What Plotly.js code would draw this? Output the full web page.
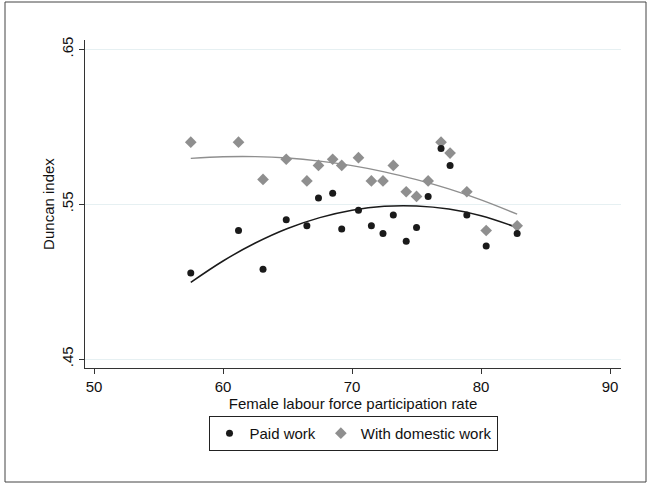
<!DOCTYPE html>
<html>
<head>
<meta charset="utf-8">
<script src="https://cdn.plot.ly/plotly-3.0.1.min.js"></script>
<style>html,body{margin:0;padding:0;background:#fff;}#chart{width:649px;height:484px;}</style>
</head>
<body>
<div id="chart"></div>
<script>
// Female labour force participation rate (x) per country
const participation = [57.5, 61.2, 63.1, 64.9, 66.5, 67.4, 68.5, 69.2, 70.5, 71.5,
                       72.4, 73.2, 74.2, 75.0, 75.9, 76.9, 77.6, 78.9, 80.4, 82.8];
// Duncan index, paid work only
const paidWork = [0.5055, 0.533, 0.508, 0.540, 0.536, 0.554, 0.557, 0.534, 0.546, 0.536,
                  0.531, 0.543, 0.526, 0.535, 0.555, 0.586, 0.575, 0.543, 0.523, 0.531];
// Duncan index, including domestic work
const domesticWork = [0.590, 0.590, 0.566, 0.579, 0.565, 0.575, 0.579, 0.575, 0.580, 0.565,
                      0.565, 0.575, 0.558, 0.555, 0.565, 0.590, 0.583, 0.558, 0.533, 0.536];
// Quadratic fitted values
const fitX = [57.5, 60, 62.5, 65, 67.5, 70, 72.5, 75, 77.5, 80, 82.8];
const fitPaid = [0.4995, 0.5133, 0.5249, 0.5343, 0.5413, 0.5461, 0.5486, 0.5488, 0.5468, 0.5425, 0.5349];
const fitDomestic = [0.5795, 0.5806, 0.5807, 0.5798, 0.5778, 0.5749, 0.5709, 0.5658, 0.5598, 0.5527, 0.5435];

const seriesNames = ["Paid work", "With domestic work"];
const yTickVals = [0.45, 0.55, 0.65];
const yTickText = [".45", ".55", ".65"];
const xTickVals = [50, 60, 70, 80, 90];

const FF = "Liberation Sans, Arial, sans-serif";
const font = {family: FF, color: "#111", size: 15};

const traces = [
  {x: fitX, y: fitDomestic, mode: "lines", line: {color: "#8f8f8f", width: 1.3, shape: "spline"}, showlegend: false, hoverinfo: "skip"},
  {x: fitX, y: fitPaid, mode: "lines", line: {color: "#1a1a1a", width: 1.5, shape: "spline"}, showlegend: false, hoverinfo: "skip"},
  {x: participation, y: domesticWork, mode: "markers", name: seriesNames[1],
   marker: {symbol: "diamond", size: 9, color: "#8f8f8f"}},
  {x: participation, y: paidWork, mode: "markers", name: seriesNames[0],
   marker: {symbol: "circle", size: 7, color: "#1a1a1a"}}
];

const layout = {
  width: 649, height: 484,
  margin: {l: 85, r: 28, t: 40, b: 116},
  paper_bgcolor: "#fff", plot_bgcolor: "#fff",
  font: font,
  showlegend: true,
  legend: {orientation: "h", x: 0.5, xanchor: "center", y: -0.146, yanchor: "top",
           bordercolor: "#222", borderwidth: 1, font: {size: 15, family: FF, color: "#111"},
           traceorder: "reversed", itemwidth: 30, bgcolor: "#fff", tracegroupgap: 0},
  xaxis: {range: [49.3, 90.85], tickvals: xTickVals, ticks: "outside", ticklen: 5, tickcolor: "#333",
          showline: true, linecolor: "#333", linewidth: 1, showgrid: false, zeroline: false,
          tickfont: {size: 15}, title: {text: "Female labour force participation rate", standoff: 0, font: {size: 15}}},
  yaxis: {range: [0.4442, 0.656], tickvals: yTickVals, ticktext: yTickText, tickangle: -90,
          ticks: "outside", ticklen: 5, tickcolor: "#333",
          showline: true, linecolor: "#333", linewidth: 1, showgrid: true, gridcolor: "#e6f0f2", gridwidth: 1,
          zeroline: false, tickfont: {size: 15}, title: {text: "Duncan index", standoff: 0, font: {size: 15}}},
  shapes: [
    {type: "rect", xref: "paper", yref: "paper", x0: (5-85)/536, x1: (646-85)/536, y0: (368-482)/328, y1: (368-2)/328,
     line: {color: "#444", width: 1}, fillcolor: "rgba(0,0,0,0)", layer: "below"}
  ]
};

Plotly.newPlot("chart", traces, layout, {displayModeBar: false, staticPlot: true});
</script>
</body>
</html>
